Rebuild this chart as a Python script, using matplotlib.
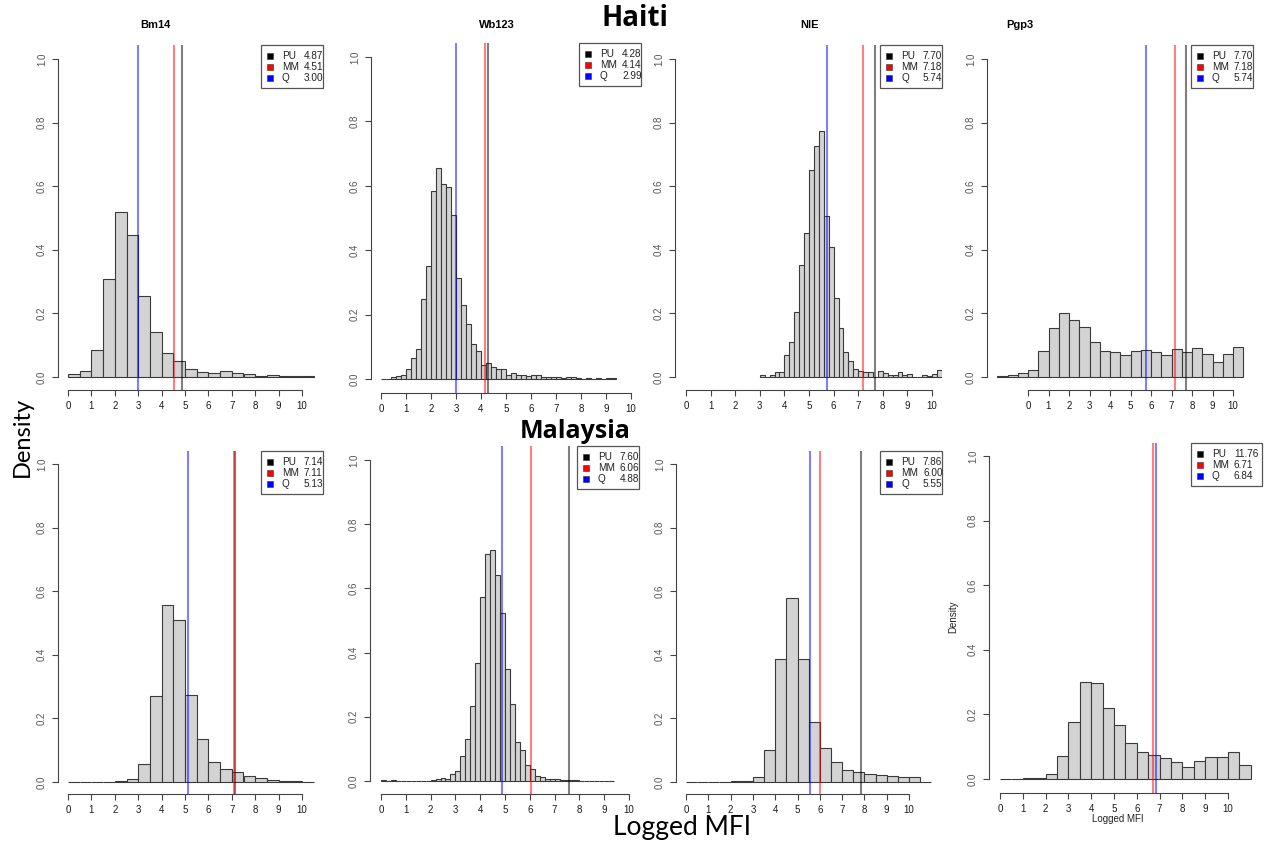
import numpy as np
import matplotlib.pyplot as plt
from matplotlib.patches import Rectangle

W, H = 1266, 841

antigens = ["Bm14", "Wb123", "NIE", "Pgp3"]

# density per bin
haiti_bm14 = [0.009, 0.019, 0.084, 0.308, 0.518, 0.448, 0.254, 0.140, 0.075, 0.050,
              0.025, 0.017, 0.013, 0.019, 0.013, 0.009, 0.004, 0.006, 0.002, 0.002, 0.004]
haiti_wb123 = [0.001, 0.001, 0.005, 0.010, 0.012, 0.030, 0.064, 0.093, 0.249, 0.350,
               0.583, 0.655, 0.607, 0.597, 0.508, 0.313, 0.229, 0.170, 0.108, 0.088,
               0.043, 0.050, 0.038, 0.031, 0.031, 0.013, 0.018, 0.012, 0.011, 0.009,
               0.012, 0.012, 0.007, 0.005, 0.006, 0.007, 0.004, 0.005, 0.005, 0.002,
               0.001, 0.002, 0.001, 0.002, 0.001, 0.002, 0.002]
haiti_nie = [0.006, 0.001, 0.006, 0.016, 0.017, 0.069, 0.111, 0.205, 0.352, 0.453,
             0.651, 0.726, 0.775, 0.506, 0.408, 0.249, 0.154, 0.079, 0.049, 0.024,
             0.019, 0.017, 0.017, 0.000, 0.019, 0.012, 0.007, 0.007, 0.016, 0.007,
             0.009, 0.000, 0.000, 0.006, 0.003, 0.008, 0.023]
haiti_pgp3 = [0.002, 0.007, 0.013, 0.023, 0.082, 0.154, 0.202, 0.179, 0.157, 0.109,
              0.082, 0.079, 0.069, 0.082, 0.085, 0.079, 0.069, 0.088, 0.079, 0.091,
              0.071, 0.047, 0.071, 0.094]
malaysia_bm14 = [0.001, 0.000, 0.001, 0.000, 0.003, 0.008, 0.056, 0.270, 0.557, 0.511,
                 0.274, 0.134, 0.064, 0.042, 0.033, 0.020, 0.014, 0.007, 0.004, 0.004, 0.001]
malaysia_wb123 = [0.003, 0.000, 0.002, 0.000, 0.000, 0.000, 0.000, 0.000, 0.001, 0.001,
                  0.004, 0.005, 0.010, 0.006, 0.021, 0.032, 0.077, 0.132, 0.235, 0.368,
                  0.574, 0.708, 0.719, 0.642, 0.522, 0.349, 0.241, 0.123, 0.097, 0.051,
                  0.036, 0.016, 0.011, 0.006, 0.006, 0.005, 0.004, 0.002, 0.003, 0.002,
                  0.000, 0.000, 0.000, 0.000, 0.000, 0.000, 0.000]
malaysia_nie = [0.000, 0.000, 0.000, 0.000, 0.002, 0.004, 0.017, 0.102, 0.387, 0.578,
                0.387, 0.190, 0.106, 0.064, 0.039, 0.033, 0.024, 0.022, 0.020, 0.017,
                0.017, 0.001]
malaysia_pgp3 = [0.001, 0.001, 0.002, 0.004, 0.016, 0.070, 0.177, 0.299, 0.296, 0.221,
                 0.166, 0.112, 0.085, 0.075, 0.064, 0.054, 0.036, 0.055, 0.067, 0.069,
                 0.084, 0.044]

# first bin edge and bin width of each histogram
bin_start = [0.0, 0.0, 3.0, -1.5, 0.0, 0.0, 0.0, 0.0]
bin_width = [0.5, 0.2, 0.2, 0.5, 0.5, 0.2, 0.5, 0.5]

# cut-offs: PU, MM, Q
pu = [4.87, 4.28, 7.70, 7.70, 7.14, 7.60, 7.86, 11.76]
mm = [4.51, 4.14, 7.18, 7.18, 7.11, 6.06, 6.00, 6.71]
q = [3.00, 2.99, 5.74, 5.74, 5.13, 4.88, 5.55, 6.84]

densities = [haiti_bm14, haiti_wb123, haiti_nie, haiti_pgp3,
             malaysia_bm14, malaysia_wb123, malaysia_nie, malaysia_pgp3]

# pixel layout: plot box (l, t, r, b), x pixel of 0 and 10, y pixel of 0 and 1
layout = [
    (58, 45, 323, 390, 68, 302, 377, 59),
    (371, 43, 641, 393, 381, 631, 379, 57),
    (675, 45, 942, 390, 686, 932, 377, 59),
    (987, 45, 1253, 390, 1028, 1233, 377, 59),
    (58, 451, 323, 794, 68, 302, 782, 464),
    (370, 446, 639, 794, 381, 629, 781, 460),
    (676, 451, 942, 794, 686, 909, 782, 464),
    (989, 443, 1262, 793, 1000, 1228, 779, 456),
]

rfont = "Liberation Sans"
fig = plt.figure(figsize=(W / 100, H / 100), dpi=100)


def fx(x):
    return x / W


def fy(y):
    return 1 - y / H


def draw_legend(r, t, vals):
    names = ["PU", "MM", "Q"]
    cols = ["black", "red", "blue"]
    wide = max(len(f"{v:.2f}") for v in vals) > 4
    w = 71 if wide else 62
    left = r - w
    fig.add_artist(Rectangle((fx(left), fy(t + 43)), w / W, 43 / H,
                             transform=fig.transFigure, fill=False,
                             edgecolor="#555555", lw=0.9))
    for i, (n, c, v) in enumerate(zip(names, cols, vals)):
        yy = t + 11 + 11 * i
        fig.add_artist(Rectangle((fx(left + 6), fy(yy + 3)), 6 / W, 6 / H,
                                 transform=fig.transFigure, facecolor=c,
                                 edgecolor="#333333", lw=0.4))
        fig.text(fx(left + 21), fy(yy), n, fontsize=7.2, family=rfont,
                 va="center", ha="left", color="#222222")
        fig.text(fx(left + 43), fy(yy), f"{v:.2f}", fontsize=7.2, family=rfont,
                 va="center", ha="left", color="#222222")


for k, (l, t, r, b, x0, x10, y0, y1) in enumerate(layout):
    ax = fig.add_axes([fx(l), fy(b), (r - l) / W, (b - t) / H])
    sx = (x10 - x0) / 10
    sy = (y0 - y1)
    ax.set_xlim((l - x0) / sx, (r - x0) / sx)
    ax.set_ylim(-(b - y0) / sy, 1 + (y1 - t) / sy)

    dens = densities[k]
    edges = bin_start[k] + bin_width[k] * np.arange(len(dens))
    ax.bar(edges, dens, width=bin_width[k], align="edge",
           color="#d3d3d3", edgecolor="#3a3a3a", lw=0.8, zorder=2)

    ax.axvline(pu[k], color="black", lw=1.5, alpha=0.5, zorder=3)
    ax.axvline(mm[k], color="red", lw=1.5, alpha=0.5, zorder=3)
    ax.axvline(q[k], color="blue", lw=1.5, alpha=0.5, zorder=3)

    for s in ["top", "right"]:
        ax.spines[s].set_visible(False)
    for s in ["left", "bottom"]:
        ax.spines[s].set_color("#444444")
        ax.spines[s].set_linewidth(0.8)
    ax.spines["left"].set_bounds(0, 1)
    ax.spines["bottom"].set_bounds(0, 10)
    ax.set_xticks(range(0, 11))
    ax.set_xticklabels([str(i) for i in range(0, 11)], family=rfont,
                       fontsize=7, color="#1a1a1a")
    yt = np.linspace(0, 1, 6)
    ax.set_yticks(yt)
    ax.set_yticklabels([f"{v:.1f}" for v in yt], family=rfont, fontsize=7,
                       rotation=90, va="center", color="#555555")
    ax.tick_params(direction="out", length=4, width=0.8, color="#444444", pad=4)
    ax.patch.set_alpha(0)

    draw_legend(r, t, [pu[k], mm[k], q[k]])

# panel titles (top row)
for name, x in zip(antigens, [155, 497, 810, 1020]):
    fig.text(fx(x), fy(25), name, fontsize=8, family=rfont, weight="bold",
             ha="center", va="center")

# small axis labels of the last panel
fig.text(fx(953), fy(617), "Density", fontsize=7, family=rfont,
         rotation=90, ha="center", va="center", color="#222222")
fig.text(fx(1118), fy(819), "Logged MFI", fontsize=7, family=rfont,
         ha="center", va="center", color="#222222")

# overlay labels
fig.text(fx(635), fy(18), "Haiti", fontsize=20, family="Open Sans",
         weight="bold", ha="center", va="center")
fig.text(fx(575), fy(431), "Malaysia", fontsize=18, family="Open Sans",
         weight="bold", ha="center", va="center")
fig.text(fx(22), fy(437), "Density", fontsize=17, family="Lato",
         rotation=90, ha="center", va="center")
fig.text(fx(682), fy(828), "Logged MFI", fontsize=19, family="Lato",
         ha="center", va="center")

fig.savefig("out.png", dpi=100)
